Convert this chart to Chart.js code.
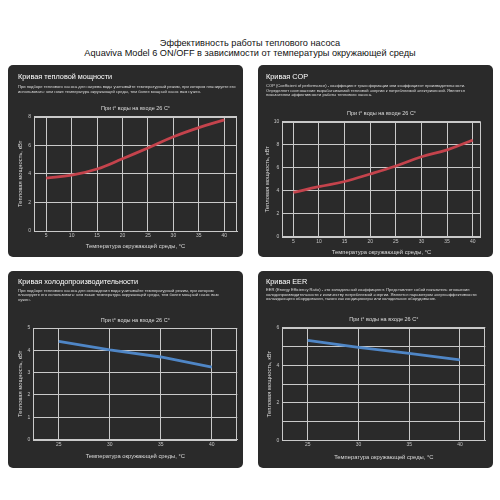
<!DOCTYPE html>
<html>
<head>
<meta charset="utf-8">
<script src="https://cdn.jsdelivr.net/npm/chart.js@4.4.0/dist/chart.umd.min.js"></script>
<style>
body{margin:0;background:#fff;width:500px;height:500px;position:relative;overflow:hidden;font-family:"Liberation Sans",Arial,sans-serif}
.head{position:absolute;left:0;top:37.7px;width:500px;text-align:center;font-size:9.2px;line-height:10px;color:#111}
.panel{position:absolute;width:235px;background:#2a2a2a;border-radius:5px}
.ttl{position:absolute;color:#fff;font-size:7.3px;line-height:9px;white-space:nowrap;will-change:transform}
.dsc{position:absolute;color:#ddd;font-size:4.1px;will-change:transform}
canvas{position:absolute}
</style>
</head>
<body>
<div class="head">Эффективность работы теплового насоса<br>Aquaviva Model 6 ON/OFF в зависимости от температуры окружающей среды</div>

<div class="panel" style="left:8px;top:65px;height:192px"></div>
<div class="panel" style="left:258px;top:65px;height:192px"></div>
<div class="panel" style="left:8px;top:271px;height:197px"></div>
<div class="panel" style="left:258px;top:271px;height:197px"></div>

<div class="ttl" style="left:17.5px;top:71.5px">Кривая тепловой мощности</div>
<div class="dsc" style="left:17.5px;top:83.8px;width:222px;line-height:5px">При подборе теплового насоса для нагрева воды учитывайте температурный режим, при котором планируете его использовать: чем ниже температура окружающей среды, тем более мощный насос вам нужен.</div>

<div class="ttl" style="left:265.5px;top:71.5px">Кривая COP</div>
<div class="dsc" style="left:265.5px;top:84px;width:218px;line-height:4.7px">COP (Coefficient of performance) - коэффициент трансформации или коэффициент производительности. Определяет соотношение вырабатываемой тепловой энергии к потребляемой электрической. Является показателем эффективности работы теплового насоса.</div>

<div class="ttl" style="left:17.5px;top:276.5px">Кривая холодопроизводительности</div>
<div class="dsc" style="left:17.5px;top:288.5px;width:214px;line-height:4.3px">При подборе теплового насоса для охлаждения воды учитывайте температурный режим, при котором планируете его использовать: чем выше температура окружающей среды, тем более мощный насос вам нужен.</div>

<div class="ttl" style="left:265.5px;top:276.5px">Кривая EER</div>
<div class="dsc" style="left:265.5px;top:288px;width:220px;line-height:4.7px">EER (Energy Efficiency Ratio) - это холодильный коэффициент. Представляет собой показатель отношения холодопроизводительности к количеству потребляемой энергии. Является параметром энергоэффективности охлаждающего оборудования, такого как кондиционеры или холодильное оборудование.</div>

<canvas id="heat"></canvas>
<canvas id="cop"></canvas>
<canvas id="cool"></canvas>
<canvas id="eer"></canvas>

<script>
// данные с графиков
var tempHeat = [5, 10, 15, 20, 25, 30, 35, 40]
var heatPower = [3.7, 3.9, 4.33, 5.05, 5.8, 6.58, 7.22, 7.76]
var copValues = [3.85, 4.35, 4.8, 5.45, 6.15, 6.95, 7.55, 8.4]

var tempCool = [25, 30, 35, 40]
var coolPower = [4.4, 4.02, 3.7, 3.25]
var eerValues = [5.33, 4.95, 4.63, 4.28]

var subTitle = 'При t° воды на входе 26 С°'
var xTitle = 'Температура окружающей среды, °С'
var yTitle = 'Тепловая мощность, кВт'

var GRID = '#c9c9c9'
var TICK = '#c4c4c4'
var RED = '#c4434c'
var BLUE = '#4f86c6'

Chart.defaults.font.family = '"Liberation Sans", Arial, sans-serif'

// рамка вокруг области графика
var frame = {
    id: 'frame',
    beforeDatasetsDraw: function (c) {
        var a = c.chartArea, ctx = c.ctx
        ctx.save()
        ctx.strokeStyle = GRID
        ctx.lineWidth = 1
        ctx.strokeRect(Math.round(a.left) + 0.5, Math.round(a.top) + 0.5, Math.round(a.right) - Math.round(a.left) - 1, Math.round(a.bottom) - Math.round(a.top))
        ctx.restore()
    }
}

function grafico(id, g, o) {
    var cv = document.getElementById(id)
    cv.width = g.w
    cv.height = g.h
    cv.style.left = g.left + 'px'
    cv.style.top = g.top + 'px'

    var subLH = 5.5 * 1.2
    var axLH = 5.8 * 1.2
    var subPadTop = g.subY - g.top - subLH / 2
    var subPadBot = g.plotT - g.top - subPadTop - subLH

    var pts = []
    for (var i = 0; i < o.xs.length; i++) {
        pts.push({ x: o.xs[i], y: o.ys[i] })
    }

    new Chart(cv, {
        type: 'line',
        data: {
            datasets: [{
                data: pts,
                borderColor: o.color,
                borderWidth: 2.8,
                tension: o.tension,
                pointRadius: 0,
                fill: false
            }]
        },
        options: {
            responsive: false,
            animation: false,
            events: [],
            layout: { padding: { left: 0, top: 0, bottom: 0, right: g.left + g.w - g.plotR } },
            plugins: {
                legend: { display: false },
                tooltip: { enabled: false },
                title: {
                    display: true, text: subTitle, color: '#dcdcdc', fullSize: false,
                    font: { size: 5.5, weight: 'normal' },
                    padding: { top: subPadTop, bottom: subPadBot }
                }
            },
            scales: {
                x: {
                    type: 'linear', min: o.xMin, max: o.xMax,
                    afterBuildTicks: function (s) { s.ticks = o.xTicks.map(function (v) { return { value: v } }) },
                    afterFit: function (s) { s.height = g.top + g.h - g.plotB },
                    grid: { color: GRID, drawTicks: false },
                    border: { color: GRID },
                    ticks: { color: TICK, font: { size: 5 }, padding: g.xTickY - g.plotB - 3 },
                    title: {
                        display: true, text: xTitle, color: '#dcdcdc', font: { size: 5.8 },
                        padding: { top: 0, bottom: g.top + g.h - g.xTitleY - axLH / 2 }
                    }
                },
                y: {
                    min: 0, max: o.yMax,
                    afterFit: function (s) { s.width = g.plotL - g.left },
                    grid: { color: GRID, drawTicks: false },
                    border: { color: GRID },
                    ticks: {
                        stepSize: o.yStep, color: TICK, font: { size: 5 }, padding: 3,
                        callback: function (v) { return (o.evenOnly && v % 2) ? '' : v }
                    },
                    title: {
                        display: true, text: yTitle, color: '#dcdcdc', font: { size: 5.8 },
                        padding: { top: g.yTitleX - g.left - axLH / 2, bottom: 0 }
                    }
                }
            }
        },
        plugins: [frame]
    })
}

grafico('heat',
    { left: 7, top: 100, w: 236, h: 157, subY: 108.3, plotT: 116.5, plotB: 231, plotL: 34, plotR: 237, yTitleX: 20.7, xTickY: 235.3, xTitleY: 246 },
    { xs: tempHeat, ys: heatPower, xTicks: tempHeat, xMin: 2.6, xMax: 42.5, yMax: 8, yStep: 2, color: RED, tension: 0.4 })

grafico('cop',
    { left: 257, top: 105, w: 236, h: 152, subY: 113.3, plotT: 121.7, plotB: 236.7, plotL: 282.3, plotR: 480.7, yTitleX: 267.7, xTickY: 241.7, xTitleY: 252.7 },
    { xs: tempHeat, ys: copValues, xTicks: tempHeat, xMin: 2.85, xMax: 41.55, yMax: 10, yStep: 2, color: RED, tension: 0.4 })

grafico('cool',
    { left: 7, top: 310, w: 236, h: 158, subY: 320, plotT: 328, plotB: 439.5, plotL: 33.3, plotR: 237.3, yTitleX: 20.5, xTickY: 444.3, xTitleY: 456.7 },
    { xs: tempCool, ys: coolPower, xTicks: tempCool, xMin: 22.5, xMax: 42.5, yMax: 5, yStep: 1, color: BLUE, tension: 0 })

grafico('eer',
    { left: 257, top: 310, w: 236, h: 158, subY: 319.5, plotT: 327.7, plotB: 440.3, plotL: 282.3, plotR: 485.3, yTitleX: 269, xTickY: 444.3, xTitleY: 457.3 },
    { xs: tempCool, ys: eerValues, xTicks: tempCool, xMin: 22.5, xMax: 42.5, yMax: 6, yStep: 1, color: BLUE, tension: 0, evenOnly: true })
</script>
</body>
</html>
